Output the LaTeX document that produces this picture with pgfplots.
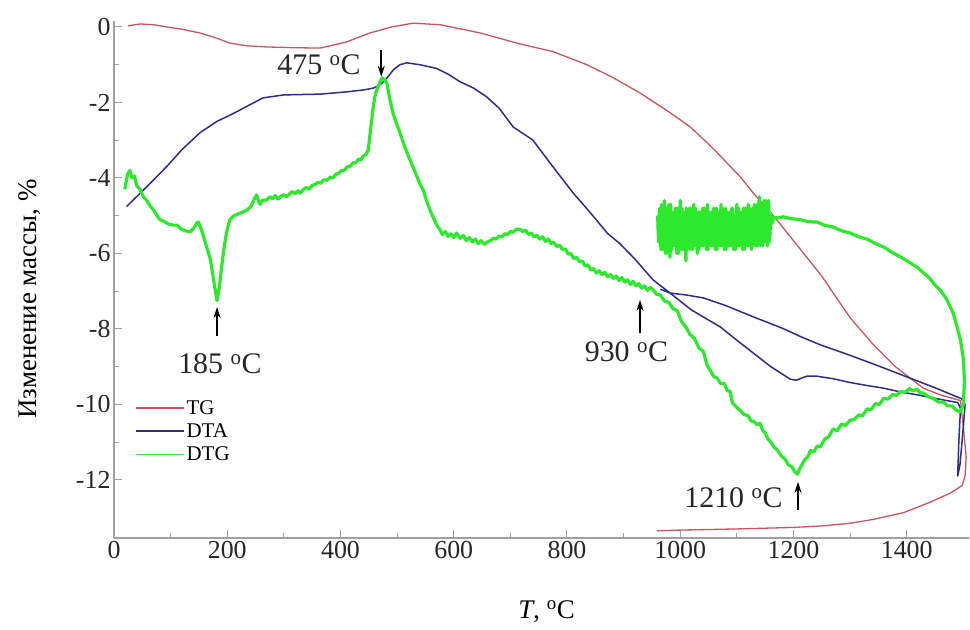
\documentclass[border=0pt]{standalone}
\usepackage{pgfplots}
\pgfplotsset{compat=1.18}
\usepackage{fontspec}
\setmainfont{Liberation Serif}
\usetikzlibrary{arrows.meta}
\definecolor{tgc}{RGB}{200,85,95}
\definecolor{dtac}{RGB}{45,45,140}
\definecolor{dtgc}{RGB}{45,232,45}
\definecolor{axc}{RGB}{160,160,160}
\begin{document}
\begin{tikzpicture}
\begin{axis}[
  scale only axis, width=855bp, height=516.7bp,
  xmin=0, xmax=1510, ymin=-13.54, ymax=0.15,
  axis x line=bottom, axis y line=left,
  axis line style={-, draw=axc, line width=1.2bp},
  xtick={0,200,...,1400}, minor x tick num=1,
  ytick={-12,-10,...,0}, minor y tick num=1,
  tick align=inside, major tick length=8bp, minor tick length=5bp,
  tick style={draw=axc, line width=1bp},
  tick label style={font=\fontsize{26}{30}\selectfont, text=black!85},
  /pgf/number format/assume math mode=true,
  /pgf/number format/1000 sep={},
  scaled ticks=false,
  xlabel={\textit{T}, \textsuperscript{o}C},
  xlabel style={font=\fontsize{27}{30}\selectfont, at={(axis description cs:0.506,-0.1432)}, anchor=center},
  ylabel={Изменение массы, \%},
  ylabel style={font=\fontsize{27}{30}\selectfont, at={(axis description cs:-0.0982,0.4625)}, anchor=center, rotate=0},
  legend style={at={(axis description cs:0.0245,0.271)}, anchor=north west, draw=none, fill=none,
     font=\fontsize{21}{24}\selectfont, inner sep=0pt, row sep=4bp},
  legend cell align=left,
  legend image code/.code={\draw[#1, line width=1.5bp] (0bp,0bp) -- (48bp,0bp);},
  clip=true,
]
\addplot[tgc, line width=1.3bp, line join=round] coordinates {
(25,0.03)(46,0.08)(70,0.06)(93,0.0)(120,-0.06)(152,-0.16)(182,-0.3)(205,-0.43)(235,-0.5)(270,-0.53)(320,-0.55)(364,-0.56)
(410,-0.4)(452,-0.16)(490,0.0)(528,0.1)(576,0.06)(647,-0.16)(717,-0.45)(775,-0.65)(835,-1.0)(880,-1.33)(929,-1.75)
(980,-2.25)(1018,-2.65)(1060,-3.25)(1106,-3.97)(1129,-4.4)(1170,-5.1)(1210,-5.85)(1250,-6.6)(1277,-7.2)(1300,-7.7)
(1340,-8.4)(1380,-9.0)(1429,-9.57)(1460,-9.75)(1495,-9.9)(1500,-10.6)(1505,-11.4)(1503,-11.9)(1498,-12.15)
(1477,-12.35)(1440,-12.6)(1394,-12.87)(1340,-13.05)(1300,-13.15)(1250,-13.22)(1200,-13.26)(1100,-13.3)(1000,-13.33)(959,-13.35)
};
\addlegendentry{TG}
\addplot[dtac, line width=1.5bp, line join=round] coordinates {
(22,-4.76)(50,-4.35)(70,-4.05)(93,-3.7)(120,-3.25)(152,-2.8)(182,-2.5)(210,-2.3)(235,-2.1)(263,-1.88)(300,-1.8)
(364,-1.78)(411,-1.72)(440,-1.67)(458,-1.62)(468,-1.55)(476,-1.45)(485,-1.3)(493,-1.14)(505,-1.0)(517,-0.95)
(540,-1.0)(570,-1.1)(590,-1.25)(611,-1.45)(635,-1.62)(658,-1.85)(680,-2.15)(705,-2.65)(740,-3.0)(775,-3.7)
(811,-4.4)(840,-4.9)(871,-5.46)(894,-5.75)(920,-6.15)(952,-6.7)(982,-7.05)(1020,-7.5)(1071,-7.95)(1100,-8.3)
(1129,-8.64)(1160,-9.0)(1194,-9.33)(1205,-9.36)(1215,-9.3)(1224,-9.25)(1240,-9.25)(1270,-9.32)(1300,-9.42)
(1330,-9.5)(1359,-9.57)(1389,-9.67)(1420,-9.75)(1460,-9.87)(1490,-9.95)(1495,-10.1)(1492,-11.0)(1490,-11.9)
(1494,-11.6)(1500,-10.6)(1503,-10.0)(1497,-9.85)(1450,-9.56)(1400,-9.27)(1350,-8.98)(1300,-8.7)(1247,-8.42)
(1212,-8.2)(1180,-7.98)(1129,-7.68)(1080,-7.38)(1041,-7.18)(1010,-7.1)(982,-7.05)(965,-6.95)
};
\addlegendentry{DTA}
\addplot[dtgc, line width=3.2bp, line join=round] coordinates {
(19,-4.3)(24,-3.9)(28,-3.8)(32,-4.0)(36,-3.95)(40,-4.2)(46,-4.3)(52,-4.5)(58,-4.6)(64,-4.75)(70,-4.85)(76,-5.0)
(81,-5.1)(88,-5.15)(96,-5.22)(104,-5.25)(111,-5.25)(118,-5.35)(126,-5.4)(134,-5.43)(140,-5.35)(146,-5.2)(149,-5.17)
(155,-5.4)(160,-5.65)(165,-5.9)(170,-6.15)(174,-6.5)(178,-6.9)(182,-7.25)(186,-6.9)(189,-6.5)(193,-6.0)(197,-5.6)
(201,-5.3)(205,-5.1)(212,-5.0)(220,-4.95)(228,-4.9)(235,-4.85)(242,-4.75)(248,-4.55)(252,-4.45)(255,-4.6)(258,-4.7)
(262,-4.6)(270,-4.58)(275,-4.5)(280,-4.55)(285,-4.47)(290,-4.56)(295,-4.48)(300,-4.45)(305,-4.5)(310,-4.42)(315,-4.36)
(320,-4.42)(325,-4.34)(329,-4.4)(335,-4.3)(340,-4.25)(345,-4.3)(350,-4.2)(355,-4.17)(360,-4.12)(365,-4.14)
(370,-4.05)(376,-4.06)(382,-3.98)(387,-4.0)(392,-3.9)(397,-3.88)(402,-3.8)(407,-3.8)(412,-3.7)(417,-3.7)(422,-3.6)
(427,-3.6)(432,-3.5)(436,-3.52)(440,-3.42)(445,-3.38)(449,-3.26)(454,-2.6)
(458,-2.1)(462,-1.75)(466,-1.6)(470,-1.45)(474,-1.35)(478,-1.4)(482,-1.5)(487,-1.9)(493,-2.3)(500,-2.6)(506,-2.85)
(511,-3.07)(518,-3.35)(525,-3.6)(532,-3.85)(540,-4.15)(546,-4.32)(552,-4.6)(558,-4.85)(564,-5.05)(570,-5.25)
(576,-5.38)(580,-5.5)(585,-5.42)(590,-5.55)(595,-5.48)(600,-5.58)(605,-5.46)(611,-5.6)(617,-5.52)(622,-5.66)
(628,-5.58)(633,-5.7)(638,-5.62)(643,-5.74)(648,-5.66)(654,-5.76)(659,-5.7)(665,-5.66)(670,-5.6)(675,-5.62)
(680,-5.54)(685,-5.56)(690,-5.48)(695,-5.5)(700,-5.42)(705,-5.44)(710,-5.36)(717,-5.36)(722,-5.42)(727,-5.38)
(732,-5.5)(737,-5.46)(742,-5.56)(747,-5.52)(752,-5.62)(757,-5.56)(762,-5.68)(767,-5.62)(772,-5.74)(776,-5.7)
(782,-5.82)(787,-5.78)(792,-5.9)(797,-5.88)(802,-6.02)(807,-6.0)(812,-6.14)(817,-6.1)(822,-6.22)(827,-6.2)
(832,-6.34)(837,-6.3)(842,-6.44)(847,-6.4)(852,-6.52)(857,-6.46)(862,-6.56)(867,-6.5)(872,-6.62)(877,-6.56)
(882,-6.66)(887,-6.6)(892,-6.72)(897,-6.64)(902,-6.76)(907,-6.7)(912,-6.82)(917,-6.74)(922,-6.86)(927,-6.8)
(932,-6.92)(937,-6.86)(942,-6.98)(947,-6.9)(953,-6.98)(958,-7.08)(965,-7.1)(972,-7.26)(980,-7.3)(987,-7.46)
(995,-7.52)(1002,-7.8)(1010,-7.95)(1017,-8.14)(1025,-8.25)(1033,-8.5)(1041,-8.6)(1047,-8.95)(1053,-9.1)(1059,-9.26)
(1065,-9.3)(1071,-9.44)(1078,-9.45)(1083,-9.64)(1088,-9.65)(1092,-9.95)(1097,-10.04)(1105,-10.15)(1112,-10.26)
(1120,-10.3)(1125,-10.44)(1130,-10.45)(1136,-10.54)(1141,-10.5)(1146,-10.7)(1150,-10.75)(1155,-10.92)(1160,-11.0)
(1166,-11.14)(1171,-11.2)(1178,-11.36)(1185,-11.45)(1191,-11.6)(1197,-11.65)(1202,-11.78)(1207,-11.85)(1211,-11.7)
(1215,-11.6)(1220,-11.46)(1225,-11.4)(1230,-11.22)(1236,-11.26)(1242,-11.1)(1248,-11.12)(1255,-10.92)(1262,-10.86)
(1270,-10.65)(1277,-10.7)(1285,-10.52)(1292,-10.56)(1300,-10.42)(1307,-10.4)(1315,-10.28)(1322,-10.3)(1330,-10.12)
(1337,-10.14)(1345,-9.98)(1352,-10.0)(1359,-9.84)(1367,-9.86)(1375,-9.74)(1382,-9.76)(1389,-9.66)(1397,-9.68)
(1405,-9.58)(1411,-9.64)(1418,-9.6)(1424,-9.7)(1430,-9.7)(1438,-9.8)(1447,-9.84)(1456,-9.94)(1465,-9.94)
(1472,-10.04)(1480,-10.04)(1488,-10.16)(1495,-10.2)(1500,-10.0)(1502,-9.4)
(1500,-8.8)(1495,-8.3)(1488,-7.9)(1482,-7.58)(1470,-7.2)(1459,-6.97)(1450,-6.84)(1440,-6.65)(1430,-6.52)(1418,-6.36)
(1405,-6.24)(1390,-6.1)(1375,-5.98)(1359,-5.83)(1345,-5.74)(1330,-5.62)(1315,-5.56)(1300,-5.46)(1285,-5.4)
(1270,-5.3)(1256,-5.26)(1242,-5.17)(1226,-5.16)(1210,-5.1)(1196,-5.08)(1182,-5.03)(1172,-5.06)(1165,-5.05)(1163,-5.2)
(1160,-5.0)(1158,-5.6)(1156,-4.6)(1154,-5.8)(1152,-4.9)(1150,-5.6)(1148,-4.6)(1146,-5.7)(1144,-4.8)(1142,-5.8)
(1140,-4.5)(1138,-5.6)(1136,-4.7)(1134,-5.8)(1132,-4.9)(1130,-5.7)(1128,-4.8)(1126,-5.9)(1124,-5.0)(1122,-5.6)
(1120,-4.7)(1118,-5.8)(1116,-5.0)(1114,-5.7)(1112,-4.8)(1110,-5.9)(1108,-4.9)(1106,-5.6)(1104,-5.0)(1102,-5.8)
(1100,-4.7)(1098,-5.7)(1096,-5.0)(1094,-5.9)(1092,-4.8)(1090,-5.6)(1088,-4.9)(1086,-5.8)(1084,-5.0)(1082,-5.7)
(1080,-4.8)(1078,-5.9)(1076,-5.1)(1074,-5.6)(1072,-4.7)(1070,-5.8)(1068,-5.0)(1066,-5.7)(1064,-4.8)(1062,-5.9)
(1060,-5.0)(1058,-5.6)(1056,-4.9)(1054,-5.8)(1052,-5.1)(1050,-5.7)(1048,-4.7)(1046,-5.9)(1044,-5.0)(1042,-5.6)
(1040,-4.8)(1038,-5.8)(1036,-5.0)(1034,-5.7)(1032,-4.9)(1030,-6.0)(1028,-5.1)(1026,-5.6)(1024,-4.7)(1022,-5.9)
(1020,-5.0)(1018,-5.7)(1016,-4.8)(1014,-5.8)(1012,-5.1)(1010,-6.2)(1008,-4.9)(1006,-5.6)(1004,-5.0)(1002,-5.9)
(1000,-4.6)(998,-5.7)(996,-5.2)(994,-6.0)(992,-4.8)(990,-5.6)(988,-4.9)(986,-5.8)(984,-5.0)(982,-6.1)
(980,-4.7)(978,-5.5)(976,-5.2)(974,-6.0)(972,-4.6)(970,-5.6)(968,-5.1)(966,-5.9)(964,-4.8)(962,-5.7)(960,-5.0)
};
\addlegendentry{DTG}
\addplot[dtgc, line width=3.2bp, line join=round, forget plot] coordinates {
(961,-5.4)(963,-4.9)(965,-5.8)(967,-4.7)(969,-5.9)(971,-5.0)(973,-5.7)(975,-4.8)(977,-6.0)(979,-5.1)
(981,-5.6)(983,-4.7)(985,-5.9)(987,-5.0)(989,-5.8)(991,-4.9)(993,-5.7)(995,-4.8)(997,-6.0)(999,-5.1)
(1001,-5.6)(1003,-4.8)(1005,-5.9)(1007,-5.0)(1009,-5.7)(1011,-4.8)(1013,-5.8)(1015,-5.0)(1017,-5.9)(1019,-4.8)
(1021,-5.6)(1023,-5.0)(1025,-5.8)(1027,-4.8)(1029,-5.7)(1031,-5.0)(1033,-5.9)(1035,-4.9)(1037,-5.6)(1039,-5.0)
(1041,-5.8)(1043,-4.8)(1045,-5.7)(1047,-5.0)(1049,-5.9)(1051,-4.9)(1053,-5.6)(1055,-5.0)(1057,-5.8)(1059,-4.8)
(1061,-5.7)(1063,-5.0)(1065,-5.9)(1067,-4.9)(1069,-5.6)(1071,-5.0)(1073,-5.8)(1075,-4.8)(1077,-5.7)(1079,-5.0)
(1081,-5.9)(1083,-4.9)(1085,-5.6)(1087,-5.0)(1089,-5.8)(1091,-4.8)(1093,-5.7)(1095,-5.0)(1097,-5.9)(1099,-4.9)
(1101,-5.6)(1103,-4.8)(1105,-5.8)(1107,-5.0)(1109,-5.7)(1111,-4.9)(1113,-5.9)(1115,-4.8)(1117,-5.6)(1119,-5.0)
(1121,-5.8)(1123,-4.8)(1125,-5.7)(1127,-5.0)(1129,-5.8)(1131,-4.7)(1133,-5.6)(1135,-4.9)(1137,-5.8)(1139,-4.6)
(1141,-5.6)(1143,-4.7)(1145,-5.8)(1147,-4.9)(1149,-5.7)(1151,-4.6)(1153,-5.6)(1155,-4.8)(1157,-5.7)(1159,-4.9)
};
\draw[black, line width=1.6bp, -{Stealth[length=11bp,width=7bp]}] (axis cs:472,-0.6) -- (axis cs:472,-1.32);
\draw[black, line width=1.6bp, -{Stealth[length=11bp,width=7bp]}] (axis cs:182,-8.2) -- (axis cs:182,-7.42);
\draw[black, line width=1.6bp, -{Stealth[length=11bp,width=7bp]}] (axis cs:929,-8.1) -- (axis cs:929,-7.23);
\draw[black, line width=1.6bp, -{Stealth[length=11bp,width=7bp]}] (axis cs:1208,-12.8) -- (axis cs:1208,-12.05);
\node[anchor=base, font=\fontsize{30}{34}\selectfont, text=black!85, inner sep=0pt] at (axis cs:362,-1.27) {475 \textsuperscript{o}C};
\node[anchor=base, font=\fontsize{30}{34}\selectfont, text=black!85, inner sep=0pt] at (axis cs:187,-9.17) {185 \textsuperscript{o}C};
\node[anchor=base, font=\fontsize{30}{34}\selectfont, text=black!85, inner sep=0pt] at (axis cs:905,-8.87) {930 \textsuperscript{o}C};
\node[anchor=base, font=\fontsize{30}{34}\selectfont, text=black!85, inner sep=0pt] at (axis cs:1094,-12.72) {1210 \textsuperscript{o}C};
\end{axis}
\path ([shift={(-114bp,-92bp)}]current axis.south west) rectangle ([shift={(1bp,21.3bp)}]current axis.north east);
\end{tikzpicture}
\end{document}
